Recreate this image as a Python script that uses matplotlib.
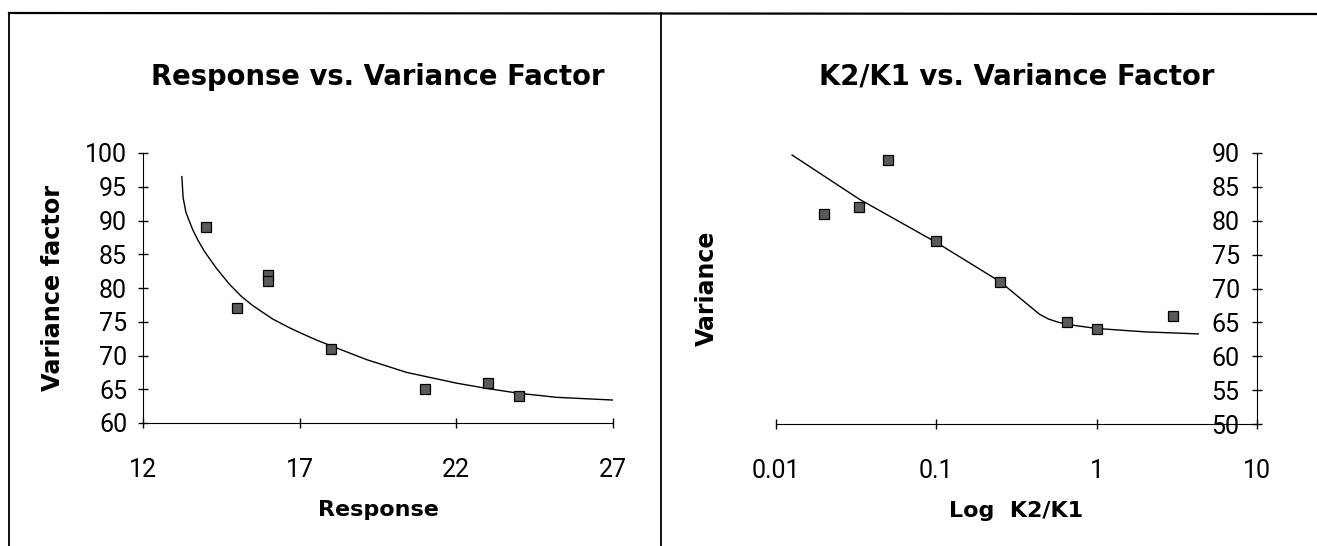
import matplotlib
matplotlib.use('Agg')
import matplotlib.pyplot as plt
from matplotlib.lines import Line2D

# Left panel: response vs variance factor
resp_x = [14, 15, 16, 16, 18, 21, 23, 24]
resp_y = [89, 77, 82, 81, 71, 65, 66, 64]
# fitted curve
resp_fit_x = [13.24, 13.28, 13.37, 13.58, 13.74, 13.95, 14.33, 14.75, 15.13, 15.5, 16.14,
              16.68, 17.0, 17.53, 18.02, 19.13, 20.41, 22.01, 23.0, 24.0, 25.21, 27.0]
resp_fit_y = [96.5, 93.4, 91.2, 88.7, 87.2, 85.5, 83.0, 80.6, 78.8, 77.4, 75.4,
              74.1, 73.4, 72.3, 71.4, 69.4, 67.5, 65.9, 65.1, 64.4, 63.8, 63.4]
resp_xticks = [12, 17, 22, 27]
resp_yticks = [60, 65, 70, 75, 80, 85, 90, 95, 100]

# Right panel: K2/K1 vs variance factor
ratio_x = [0.02, 0.033, 0.05, 0.1, 0.25, 0.65, 1.0, 3.0]
ratio_y = [81, 82, 89, 77, 71, 65, 64, 66]
ratio_fit_x = [0.0126, 0.033, 0.1, 0.25, 0.44, 0.5, 0.58, 0.7, 1.0, 2.0, 4.3]
ratio_fit_y = [89.7, 83.2, 76.8, 71.0, 66.2, 65.5, 65.0, 64.6, 64.1, 63.6, 63.3]
ratio_xticks = [0.01, 0.1, 1, 10]
ratio_xlabels = ['0.01', '0.1', '1', '10']
ratio_yticks = [50, 55, 60, 65, 70, 75, 80, 85, 90]

num_font = ['Liberation Sans Narrow', 'Roboto', 'DejaVu Sans']
lab_font = ['DejaVu Sans']

fig = plt.figure(figsize=(13.17, 5.46), dpi=100)

# frame lines around the two panels
fig.add_artist(Line2D([9 / 1317, 1], [1 - 13 / 546, 1 - 14 / 546], color='black', lw=1.6))
fig.add_artist(Line2D([9 / 1317, 9 / 1317], [0, 1 - 13 / 546], color='black', lw=1.3))
fig.add_artist(Line2D([661 / 1317, 661 / 1317], [0, 1 - 13 / 546], color='black', lw=1.3))

mk = dict(marker='s', linestyle='none', markersize=7.5, markerfacecolor='#5a5a5a',
          markeredgecolor='black', markeredgewidth=0.9)

# (1) Response vs. Variance Factor
ax1 = fig.add_axes([143 / 1317, 123 / 546, 470 / 1317, 270 / 546])
ax1.plot(resp_fit_x, resp_fit_y, color='black', lw=1.0)
ax1.plot(resp_x, resp_y, **mk)
ax1.set_xlim(12, 27)
ax1.set_ylim(60, 100)
ax1.set_xticks(resp_xticks)
ax1.set_yticks(resp_yticks)
ax1.spines['top'].set_visible(False)
ax1.spines['right'].set_visible(False)
ax1.tick_params(direction='inout', length=7, width=1.0)
ax1.tick_params(axis='x', pad=22)
ax1.tick_params(axis='y', pad=8)
for lab in ax1.get_xticklabels() + ax1.get_yticklabels():
    lab.set_family(num_font)
    lab.set_fontsize(18)
ax1.set_title('Response vs. Variance Factor', y=1.2815, va='center', pad=0,
              fontsize=19.8, fontweight='bold', family=lab_font)
ax1.set_xlabel('Response', fontsize=16, fontweight='bold', family=lab_font)
ax1.xaxis.set_label_coords(0.5, -0.285)
ax1.set_ylabel('Variance factor', fontsize=17.3, fontweight='bold', family=lab_font)
ax1.yaxis.set_label_coords(-0.166, 0.5)

# (2) K2/K1 vs. Variance Factor
ax2 = fig.add_axes([776 / 1317, 122 / 546, 481 / 1317, 271 / 546])
ax2.plot(ratio_fit_x, ratio_fit_y, color='black', lw=1.0)
ax2.plot(ratio_x, ratio_y, **mk)
ax2.set_xscale('log')
ax2.set_xlim(0.01, 10)
ax2.set_ylim(50, 90)
ax2.set_xticks(ratio_xticks)
ax2.set_xticklabels(ratio_xlabels)
ax2.minorticks_off()
ax2.set_yticks(ratio_yticks)
ax2.spines['left'].set_position(('data', 10))
ax2.spines['top'].set_visible(False)
ax2.spines['right'].set_visible(False)
ax2.tick_params(direction='inout', length=7, width=1.0)
ax2.tick_params(axis='x', pad=22)
ax2.tick_params(axis='y', pad=9)
for lab in ax2.get_xticklabels() + ax2.get_yticklabels():
    lab.set_family(num_font)
    lab.set_fontsize(18)
ax2.set_title('K2/K1 vs. Variance Factor', y=1.2815, va='center', pad=0,
              fontsize=19.8, fontweight='bold', family=lab_font)
ax2.set_xlabel('Log  K2/K1', fontsize=16, fontweight='bold', family=lab_font)
ax2.xaxis.set_label_coords(0.5, -0.285)
ax2.set_ylabel('Variance', fontsize=17, fontweight='bold', family=lab_font)
ax2.yaxis.set_label_coords(-0.1185, 0.5)

fig.savefig('out.png', dpi=100)
